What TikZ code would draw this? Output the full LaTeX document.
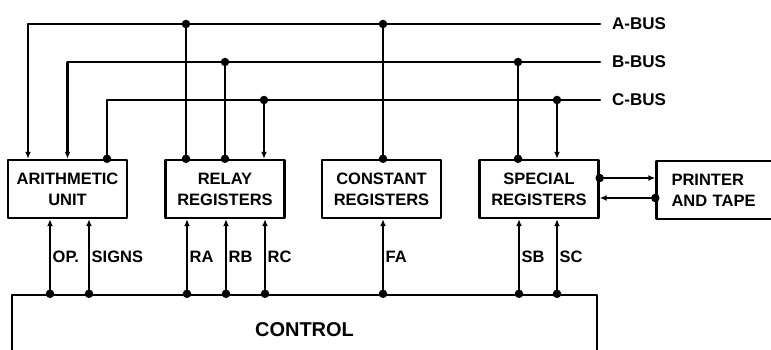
\documentclass[tikz,border=0pt]{standalone}
\usepackage{fontspec}
\setmainfont{Liberation Sans}
\usetikzlibrary{positioning,arrows.meta}
\newcommand{\boxfont}{\fontsize{16.5}{21}\selectfont\bfseries}
\newcommand{\busfont}{\fontsize{17}{20}\selectfont\bfseries}
\newcommand{\ctlfont}{\fontsize{20}{24}\selectfont\bfseries}
\tikzset{
  unit/.style={draw,line width=2.4pt,minimum width=119pt,minimum height=58pt,align=center,font=\boxfont,inner sep=0pt},
  bus/.style={line width=2.2pt},
  wire/.style={line width=2.4pt},
  tip/.style={-{Latex[length=7pt,width=6pt]}},
  jdot/.style={circle,fill,inner sep=0pt,minimum size=8.5pt},
  buslbl/.style={inner sep=1pt,font=\busfont},
  sig/.style={right,inner sep=1.5pt,font=\boxfont},
}

\begin{document}
\begin{tikzpicture}[x=1pt,y=-1pt,line cap=round,line join=round]
  \useasboundingbox (0,0) rectangle (771,350);
  % the three buses end on the right with their names
  \coordinate (abus) at (600,24);
  \coordinate (bbus) at (600,62);
  \coordinate (cbus) at (600,100);
  \node[buslbl,anchor=west,right=11pt of abus] (alab) {A-BUS};
  \node[buslbl,anchor=west,right=11pt of bbus] (blab) {B-BUS};
  \node[buslbl,anchor=west,right=11pt of cbus] (clab) {C-BUS};
  \node[unit] (au) at (67.5,189) {ARITHMETIC\\UNIT};
  \node[unit] (rr) at (225,189) {RELAY\\REGISTERS};
  \node[unit] (cr) at (381.5,189) {CONSTANT\\REGISTERS};
  \node[unit] (sr) at (539,189) {SPECIAL\\REGISTERS};
  \node[unit,align=left,text width=89pt] (pt) at (716,190) {PRINTER\\AND TAPE};
  \node[draw,line width=2.4pt,minimum width=585pt,minimum height=70pt,font=\ctlfont] (ctl) at (304.5,330) {CONTROL};
  % arithmetic unit reads A and B, writes C
  \draw[bus,tip] (abus) -| ([xshift=-39.5pt]au.north);
  \draw[bus,tip] (bbus) -| (au.north);
  \draw[bus] ([xshift=39.5pt]au.north) node[jdot] (auc) {} |- (cbus);
  \draw[wire] ([xshift=-39pt]rr.north) node[jdot] (rra1) {} -- ([xshift=-39pt]rr.north |- abus) node[jdot] (rra2) {};
  \draw[wire] (rr.north) node[jdot] (rrb1) {} -- (rr.north |- bbus) node[jdot] (rrb2) {};
  \draw[wire,tip] ([xshift=39pt]rr.north |- cbus) node[jdot] (rrc2) {} -- ([xshift=39pt]rr.north);
  \draw[wire] ([xshift=1.5pt]cr.north) node[jdot] (cra1) {} -- ([xshift=1.5pt]cr.north |- abus) node[jdot] (cra2) {};
  \draw[wire] ([xshift=-21pt]sr.north) node[jdot] (srb1) {} -- ([xshift=-21pt]sr.north |- bbus) node[jdot] (srb2) {};
  \draw[wire,tip] ([xshift=18pt]sr.north |- cbus) node[jdot] (src2) {} -- ([xshift=18pt]sr.north);
  % lines from control up into the units
  \foreach \bx/\dx/\txt in {au/-17.5/OP., au/21.5/SIGNS, rr/-38/RA, rr/1/RB, rr/40/RC, cr/1.5/FA, sr/-20/SB, sr/18/SC}
    \draw[wire,tip] ([xshift=\dx pt]\bx.south |- ctl.north) node[jdot] (c\txt) {} -- ([xshift=\dx pt]\bx.south) node[midway,sig] (l\txt) {\txt};
  \draw[wire,tip] ([yshift=11pt]sr.east) node[jdot] (spo) {} -- ([yshift=11pt]sr.east -| pt.west);
  \draw[wire,tip] ([yshift=-9pt]sr.east -| pt.west) node[jdot] (spi) {} -- ([yshift=-9pt]sr.east);
\end{tikzpicture}
\end{document}
